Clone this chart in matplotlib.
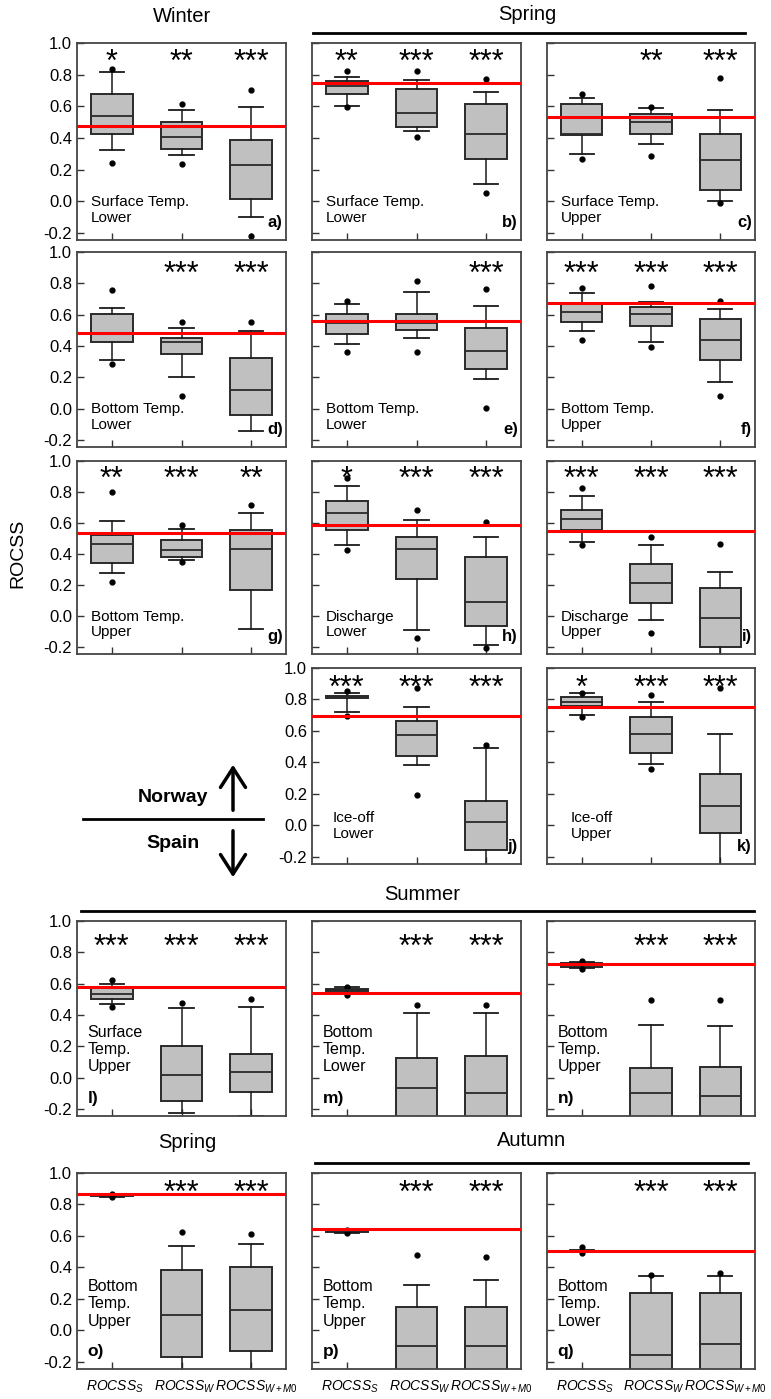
import numpy as np
import matplotlib
matplotlib.use('Agg')
import matplotlib.pyplot as plt
import matplotlib.transforms as mtransforms
from matplotlib.lines import Line2D
from matplotlib.patches import FancyArrowPatch

plt.rcParams['font.family'] = ['Liberation Sans', 'DejaVu Sans']
plt.rcParams['mathtext.fontset'] = 'custom'
plt.rcParams['mathtext.it'] = 'Liberation Sans:italic'
plt.rcParams['mathtext.rm'] = 'Liberation Sans'

nan = np.nan

# panel letters and what each panel shows
letters = list('abcdefghijklmnopq')
variables = ['Surface Temp.\nLower', 'Surface Temp.\nLower', 'Surface Temp.\nUpper',
             'Bottom Temp.\nLower', 'Bottom Temp.\nLower', 'Bottom Temp.\nUpper',
             'Bottom Temp.\nUpper', 'Discharge\nLower', 'Discharge\nUpper',
             'Ice-off\nLower', 'Ice-off\nUpper',
             'Surface\nTemp.\nUpper', 'Bottom\nTemp.\nLower', 'Bottom\nTemp.\nUpper',
             'Bottom\nTemp.\nUpper', 'Bottom\nTemp.\nUpper', 'Bottom\nTemp.\nLower']
xlabels = [r'$ROCSS_S$', r'$ROCSS_W$', r'$ROCSS_{W+M0}$']

# reference ROCSS (red line) per panel
red_line = [0.477, 0.748, 0.530, 0.481, 0.560, 0.677, 0.533, 0.585, 0.546,
            0.694, 0.752, 0.578, 0.540, 0.728, 0.869, 0.647, 0.505]

stars = [['*', '**', '***'], ['**', '***', '***'], ['', '**', '***'],
         ['', '***', '***'], ['', '', '***'], ['***', '***', '***'],
         ['**', '***', '**'], ['*', '***', '***'], ['***', '***', '***'],
         ['***', '***', '***'], ['*', '***', '***'], ['***', '***', '***'],
         ['', '***', '***'], ['', '***', '***'], ['', '***', '***'],
         ['', '***', '***'], ['', '***', '***']]

# box statistics, one triplet (S, W, W+M0) per panel
med = [[0.536, 0.409, 0.229], [0.729, 0.559, 0.428], [0.425, 0.498, 0.258],
       [0.485, 0.428, 0.119], [0.547, 0.545, 0.368], [0.619, 0.602, 0.438],
       [0.465, 0.426, 0.433], [0.666, 0.435, 0.088], [0.625, 0.210, -0.011],
       [0.815, 0.573, 0.023], [0.783, 0.580, 0.123], [0.535, 0.019, 0.034],
       [0.559, -0.066, -0.099], [0.720, -0.099, -0.116], [0.859, 0.101, 0.131],
       [0.632, -0.099, -0.099], [0.505, -0.158, -0.084]]
q1 = [[0.424, 0.333, 0.013], [0.676, 0.470, 0.267], [0.420, 0.426, 0.072],
      [0.428, 0.351, -0.043], [0.474, 0.500, 0.251], [0.553, 0.528, 0.313],
      [0.345, 0.381, 0.165], [0.555, 0.236, -0.062], [0.552, 0.081, -0.197],
      [0.807, 0.439, -0.159], [0.756, 0.461, -0.049], [0.505, -0.150, -0.092],
      [0.550, -0.30, -0.30], [0.707, -0.30, -0.30], [0.852, -0.167, -0.128],
      [0.625, -0.30, -0.30], [0.501, -0.30, -0.30]]
q3 = [[0.678, 0.500, 0.386], [0.761, 0.708, 0.617], [0.617, 0.549, 0.426],
      [0.602, 0.453, 0.326], [0.602, 0.602, 0.517], [0.677, 0.649, 0.572],
      [0.520, 0.490, 0.557], [0.739, 0.507, 0.381], [0.685, 0.336, 0.180],
      [0.824, 0.662, 0.153], [0.813, 0.686, 0.329], [0.572, 0.203, 0.148],
      [0.565, 0.124, 0.139], [0.732, 0.062, 0.066], [0.865, 0.381, 0.403],
      [0.640, 0.152, 0.152], [0.507, 0.240, 0.240]]
wlo = [[0.326, 0.292, -0.100], [0.602, 0.441, 0.106], [0.297, 0.360, 0.004],
       [0.309, 0.200, -0.145], [0.415, 0.453, 0.191], [0.496, 0.426, 0.168],
       [0.276, 0.362, -0.081], [0.456, -0.092, -0.186], [0.480, -0.028, -0.30],
       [0.718, 0.386, -0.30], [0.701, 0.391, -0.30], [0.471, -0.225, -0.242],
       [0.540, -0.35, -0.35], [0.700, -0.35, -0.35], [0.850, -0.30, -0.30],
       [0.622, -0.35, -0.35], [0.498, -0.35, -0.35]]
whi = [[0.814, 0.578, 0.597], [0.786, 0.767, 0.693], [0.655, 0.587, 0.576],
       [0.643, 0.513, 0.496], [0.670, 0.745, 0.655], [0.736, 0.680, 0.634],
       [0.615, 0.559, 0.664], [0.839, 0.619, 0.510], [0.775, 0.456, 0.285],
       [0.843, 0.754, 0.493], [0.843, 0.783, 0.580], [0.595, 0.443, 0.454],
       [0.578, 0.413, 0.413], [0.740, 0.338, 0.330], [0.867, 0.537, 0.548],
       [0.642, 0.287, 0.321], [0.510, 0.347, 0.347]]
dot_hi = [[0.835, 0.612, 0.703], [0.826, 0.826, 0.775], [0.678, 0.595, 0.780],
          [0.755, 0.553, 0.555], [0.687, 0.815, 0.766], [0.772, 0.781, 0.687],
          [0.799, 0.587, 0.717], [0.893, 0.685, 0.604], [0.824, 0.507, 0.463],
          [0.854, 0.870, 0.510], [0.843, 0.828, 0.875], [0.625, 0.475, 0.503],
          [0.578, 0.465, 0.465], [0.747, 0.495, 0.495], [0.865, 0.627, 0.610],
          [0.640, 0.478, 0.467], [0.531, 0.353, 0.364]]
dot_lo = [[0.244, 0.233, -0.220], [0.593, 0.407, 0.051], [0.269, 0.288, -0.013],
          [0.287, 0.079, nan], [0.362, 0.364, 0.006], [0.436, 0.394, 0.079],
          [0.221, 0.347, nan], [0.426, -0.141, -0.208], [0.460, -0.109, nan],
          [0.692, 0.191, nan], [0.690, 0.361, nan], [0.454, nan, nan],
          [0.529, nan, nan], [0.694, nan, nan], [0.850, nan, nan],
          [0.621, nan, nan], [0.495, nan, nan]]

# layout in pixels
W, H = 771, 1399
col_x = [(77, 286), (312, 521), (547, 755)]
row_y = [(43, 240), (252, 447), (461, 654), (668, 864), (921, 1116), (1173, 1369)]
grid = [(0, 0), (0, 1), (0, 2), (1, 0), (1, 1), (1, 2), (2, 0), (2, 1), (2, 2),
        (3, 1), (3, 2), (4, 0), (4, 1), (4, 2), (5, 0), (5, 1), (5, 2)]
star_y = [0.825, 0.80, 0.825, 0.815, 0.775, 0.815]
text_y = [-0.054, -0.054, -0.054, -0.005, 0.18, 0.17]


def fx(x):
    return x / W


def fy(y):
    return 1 - y / H


fig = plt.figure(figsize=(W / 100, H / 100), dpi=100)

for i, (r, c) in enumerate(grid):
    x0, x1 = col_x[c]
    y0, y1 = row_y[r]
    ax = fig.add_axes([fx(x0), fy(y1), (x1 - x0) / W, (y1 - y0) / H])
    stats = []
    for k in range(3):
        dots = np.array([dot_hi[i][k], dot_lo[i][k]])
        stats.append(dict(med=med[i][k], q1=q1[i][k], q3=q3[i][k],
                          whislo=wlo[i][k], whishi=whi[i][k],
                          fliers=dots[~np.isnan(dots)]))
    ax.bxp(stats, positions=[1, 2, 3], widths=0.6, capwidths=0.35,
           patch_artist=True, showfliers=True,
           boxprops=dict(facecolor='#c0c0c0', edgecolor='#2a2a2a', linewidth=1.4),
           medianprops=dict(color='#2a2a2a', linewidth=1.3),
           whiskerprops=dict(color='#1a1a1a', linewidth=1.1),
           capprops=dict(color='#1a1a1a', linewidth=1.3),
           flierprops=dict(marker='o', markersize=3.5, markerfacecolor='black',
                           markeredgecolor='black'))
    ax.axhline(red_line[i], color='#ff0000', linewidth=2.2, zorder=5)
    ax.set_xlim(0.5, 3.5)
    ax.set_ylim(-0.245, 1.0)
    ax.set_yticks([-0.2, 0.0, 0.2, 0.4, 0.6, 0.8, 1.0])
    ax.set_xticks([1, 2, 3])
    ax.tick_params(direction='in', length=5, width=1, colors='#333333',
                   labelcolor='black', labelsize=12)
    if c == 0 or (r == 3 and c == 1):
        ax.set_yticklabels(['-0.2', '0.0', '0.2', '0.4', '0.6', '0.8', '1.0'])
    else:
        ax.set_yticklabels([])
    if r == 5:
        ax.set_xticklabels(xlabels, fontsize=10)
        ax.tick_params(axis='x', pad=7)
        # keep the ROCSS part over the tick, let the subscript hang right
        shifts = [3, 3, 5]
        for lab, dx in zip(ax.get_xticklabels(), shifts):
            lab.set_transform(lab.get_transform() +
                              mtransforms.ScaledTranslation(dx / 100, 0,
                                                            fig.dpi_scale_trans))
    else:
        ax.set_xticklabels([])
    for s in ax.spines.values():
        s.set_color('#444444')
        s.set_linewidth(1.3)

    for k in range(3):
        if stars[i][k]:
            ax.text(k + 1, star_y[r], stars[i][k], ha='center', va='baseline',
                    fontsize=22)

    tr = ax.get_yaxis_transform()
    if r < 4:
        tx = 0.065
        if r == 3:
            tx = 0.10 if c == 1 else 0.115
        ax.text(tx, text_y[r], variables[i], transform=tr, ha='left',
                va='center', fontsize=11, linespacing=1.15)
        ax.text(0.985, -0.135, letters[i] + ')', transform=tr, ha='right',
                va='center', fontsize=12, fontweight='bold')
    else:
        ax.text(0.05, text_y[r], variables[i], transform=tr, ha='left',
                va='center', fontsize=11.5, linespacing=1.2)
        ax.text(0.05, -0.135, letters[i] + ')', transform=tr, ha='left',
                va='center', fontsize=12.5, fontweight='bold')

# season titles and group lines
fig.text(fx(182), fy(17), 'Winter', ha='center', va='center', fontsize=14.5)
fig.text(fx(527), fy(15), 'Spring', ha='center', va='center', fontsize=14.5)
fig.add_artist(Line2D([fx(313), fx(745)], [fy(33), fy(33)], color='black', lw=2))
fig.text(fx(422), fy(895), 'Summer', ha='center', va='center', fontsize=14.5)
fig.add_artist(Line2D([fx(81), fx(754)], [fy(911), fy(911)], color='black', lw=2))
fig.text(fx(187), fy(1142), 'Spring', ha='center', va='center', fontsize=14.5)
fig.text(fx(532), fy(1141), 'Autumn', ha='center', va='center', fontsize=14.5)
fig.add_artist(Line2D([fx(315), fx(748)], [fy(1163), fy(1163)], color='black', lw=2))

fig.text(fx(18), fy(553), 'ROCSS', rotation=90, ha='center', va='center', fontsize=14)

# Norway / Spain marker
fig.add_artist(Line2D([fx(83), fx(263)], [fy(819), fy(819)], color='black', lw=2))
fig.text(fx(173), fy(798), 'Norway', ha='center', va='center', fontsize=14,
         fontweight='bold')
fig.text(fx(173), fy(843), 'Spain', ha='center', va='center', fontsize=14,
         fontweight='bold')
fig.add_artist(FancyArrowPatch((fx(233), fy(813)), (fx(233), fy(762)),
                               transform=fig.transFigure,
                               arrowstyle='->,head_length=0.7,head_width=0.45',
                               mutation_scale=20, lw=2.5, color='black'))
fig.add_artist(FancyArrowPatch((fx(233), fy(828)), (fx(233), fy(880)),
                               transform=fig.transFigure,
                               arrowstyle='->,head_length=0.7,head_width=0.45',
                               mutation_scale=20, lw=2.5, color='black'))

fig.savefig('out.png', dpi=100)
